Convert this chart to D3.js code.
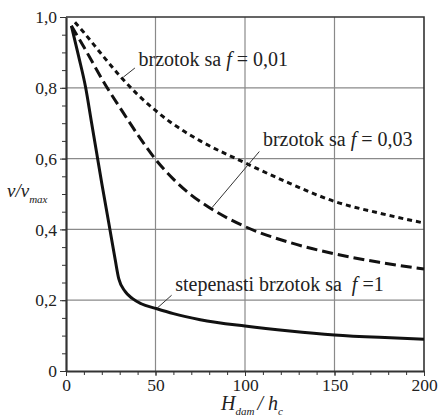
<!DOCTYPE html>
<meta charset="utf-8">
<style>
body { margin: 0; background: #fff; }
text { font-family: "Liberation Serif", "DejaVu Serif", serif; }
.grid line { stroke: #8a8a8a; stroke-width: 1.2px; }
.line { fill: none; stroke: #111; stroke-width: 3px; }
.leader { stroke: #333; stroke-width: 1px; }
.axis path, .axis line { stroke: #333; }
.axis text { font-size: 17.5px; fill: #222; }
.lbl { font-size: 20px; fill: #222; white-space: pre; }
</style>
<svg width="438" height="416"></svg>
<script src="https://cdn.jsdelivr.net/npm/d3@7"></script>
<script>

// values (x = H_dam/h_c, y = v/v_max)
var xStep   = [3, 7, 11, 14, 17, 20, 24, 27.5, 29.5, 33, 37, 42, 50, 60, 75, 100, 125, 150, 175, 200];
var yStep   = [0.975, 0.89, 0.80, 0.71, 0.62, 0.53, 0.415, 0.314, 0.26, 0.225, 0.205, 0.19, 0.177, 0.162, 0.145, 0.127, 0.113, 0.102, 0.095, 0.09];

var xF003   = [3, 10, 23, 30, 40, 50, 60, 70, 80, 100, 125, 150, 175, 200];
var yF003   = [0.975, 0.915, 0.80, 0.745, 0.668, 0.598, 0.542, 0.497, 0.462, 0.408, 0.363, 0.331, 0.307, 0.288];

var xF001   = [5, 10, 20, 30, 40, 50, 58, 66, 75, 100, 125, 150, 175, 200];
var yF001   = [0.985, 0.956, 0.894, 0.834, 0.781, 0.736, 0.704, 0.677, 0.65, 0.588, 0.53, 0.479, 0.446, 0.418];

var xTicks = [0, 50, 100, 150, 200];
var yTicks = [0, 0.2, 0.4, 0.6, 0.8, 1.0];

var svg = d3.select("svg"),
    margin = {top: 17, right: 14, bottom: 45, left: 66},
    width = svg.attr("width") - margin.left - margin.right,
    height = svg.attr("height") - margin.top - margin.bottom,
    g = svg.append("g").attr("transform", "translate(" + margin.left + "," + margin.top + ")");

var x = d3.scaleLinear().domain([0, 200]).range([0, width]),
    y = d3.scaleLinear().domain([0, 1]).range([height, 0]);

var fmt = function(d) { return d === 0 ? "0" : d3.format(".1f")(d).replace(".", ","); };

// grid
var grid = g.append("g").attr("class", "grid");
grid.selectAll(".gx").data(xTicks.slice(1, -1)).enter().append("line")
    .attr("x1", x).attr("x2", x).attr("y1", 0).attr("y2", height);
grid.selectAll(".gy").data(yTicks.slice(1, -1)).enter().append("line")
    .attr("y1", y).attr("y2", y).attr("x1", 0).attr("x2", width);

// frame top/right
g.append("path")
    .attr("d", "M0,0H" + width + "V" + height)
    .attr("fill", "none").attr("stroke", "#333").attr("stroke-width", 1.6);

// minor ticks
g.append("g")
    .attr("class", "axis")
    .attr("transform", "translate(0," + height + ")")
    .call(d3.axisBottom(x).tickValues(d3.range(0, 201, 10)).tickSize(4).tickFormat(""))
    .call(function(a) { a.select(".domain").remove(); });
g.append("g")
    .attr("class", "axis")
    .call(d3.axisLeft(y).tickValues(d3.range(0, 1.001, 0.05)).tickSize(4).tickFormat(""))
    .call(function(a) { a.select(".domain").remove(); });

// main axes
g.append("g")
    .attr("class", "axis")
    .attr("transform", "translate(0," + height + ")")
    .call(d3.axisBottom(x).tickValues(xTicks).tickSize(5).tickSizeOuter(0).tickPadding(3).tickFormat(d3.format("d")))
    .call(function(a) { a.attr("font-family", null); a.select(".domain").attr("stroke-width", 2.2); });

g.append("g")
    .attr("class", "axis")
    .call(d3.axisLeft(y).tickValues(yTicks).tickSize(6).tickSizeOuter(0).tickPadding(3).tickFormat(fmt))
    .call(function(a) { a.attr("font-family", null); a.select(".domain").attr("stroke-width", 2.2); });

// curves
var line = d3.line()
    .curve(d3.curveMonotoneX)
    .x(function(d) { return x(d[0]); })
    .y(function(d) { return y(d[1]); });

var sets = [
  {xs: xF001, ys: yF001, dash: "5,4"},
  {xs: xF003, ys: yF003, dash: "11,5"},
  {xs: xStep, ys: yStep, dash: null}
];

sets.forEach(function(s) {
  g.append("path")
      .attr("class", "line")
      .attr("d", line(s.xs.map(function(v, i) { return [v, s.ys[i]]; })))
      .attr("stroke-dasharray", s.dash);
});

// labels with leader lines: from point on curve p0 to p1, text at tp
function label(p0, p1, tp, t1, t2) {
  g.append("line").attr("class", "leader")
      .attr("x1", x(p0[0])).attr("y1", y(p0[1]))
      .attr("x2", x(p1[0])).attr("y2", y(p1[1]));
  var t = g.append("text").attr("class", "lbl")
      .attr("x", x(tp[0])).attr("y", y(tp[1]));
  t.append("tspan").text(t1);
  t.append("tspan").style("font-style", "italic").text("f");
  t.append("tspan").text(t2);
}

label([32, 0.83], [38.5, 0.856], [40.5, 0.861], "brzotok sa ", " = 0,01");
label([81.5, 0.461], [108, 0.62], [110, 0.635], "brzotok sa ", " = 0,03");
label([50.8, 0.177], [59, 0.214], [61, 0.225], "stepenasti brzotok sa  ", " =1");

// axis titles
var yl = svg.append("text").attr("x", 7).attr("y", 197).style("font-size", "19px").style("font-style", "italic").attr("fill", "#222");
yl.append("tspan").text("v/v");
yl.append("tspan").attr("dy", 6).style("font-size", "11px").text("max");

var xl = svg.append("text").attr("x", 221).attr("y", 410).style("font-size", "20px").style("font-style", "italic").attr("fill", "#222");
xl.append("tspan").text("H");
xl.append("tspan").attr("dy", 5).style("font-size", "11px").text("dam");
xl.append("tspan").attr("dy", -5).attr("dx", 3).text("/ h");
xl.append("tspan").attr("dy", 5).style("font-size", "11px").text("c");

</script>
